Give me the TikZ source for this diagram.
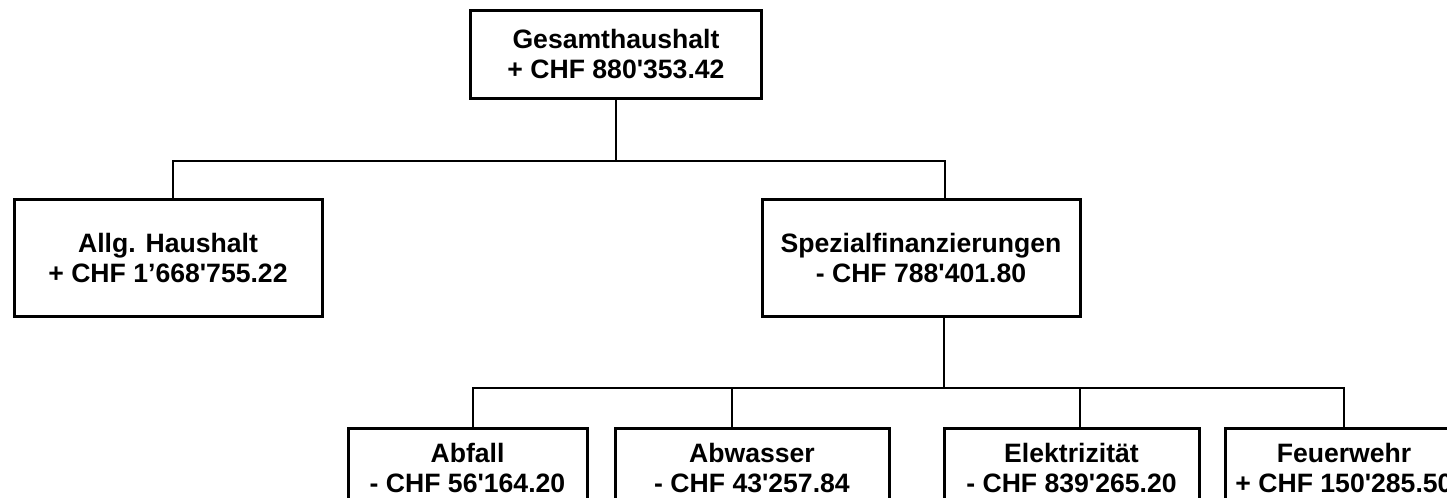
\documentclass[tikz,border=0pt]{standalone}
\usepackage{fontspec}
\setmainfont{Liberation Sans}
\usetikzlibrary{positioning}

\begin{document}
\begin{tikzpicture}[x=0.5pt,y=-0.5pt,
    konto/.style={draw,line width=1.5pt,inner sep=0pt,align=center,
      font=\fontsize{13.3pt}{15pt}\selectfont\bfseries},
    ast/.style={line width=1pt}]
  \useasboundingbox (0,0) rectangle (1447,498);
  \clip (0,0) rectangle (1447,498);

  \node[konto,minimum width=145.5pt,minimum height=44pt] (g) at (616,54)
       {Gesamthaushalt\\+ CHF 880\textquotesingle353.42};
  \node[konto,minimum width=154pt,minimum height=58.5pt] (a) at (168,257.5)
       {Allg. Haushalt\\+ CHF 1’668\textquotesingle755.22};
  \node[konto,minimum width=159pt,minimum height=58.5pt] (s) at (921,257.5)
       {Spezialfinanzierungen\\- CHF 788\textquotesingle401.80};

  \node[konto,minimum width=119.5pt,minimum height=40pt] (f1) at (467.5,468)
       {Abfall\\- CHF 56\textquotesingle164.20};
  \node[konto,minimum width=137pt,minimum height=40pt] (f2) at (752,468)
       {Abwasser\\- CHF 43\textquotesingle257.84};
  \node[konto,minimum width=127.5pt,minimum height=40pt] (f3) at (1071.5,468)
       {Elektrizität\\- CHF 839\textquotesingle265.20};
  \node[konto,minimum width=119pt,minimum height=40pt] (f4) at (1344,468)
       {Feuerwehr\\+ CHF 150\textquotesingle285.50};

  \coordinate (j1) at (616,161);
  \coordinate (j2) at (944,388);

  \draw[ast] (g.south) -- (j1);
  \draw[ast] ([xshift=2.5pt]a.north) |- (j1) -| ([xshift=12pt]s.north);
  \draw[ast] ([xshift=11.5pt]s.south) -- (j2);
  \draw[ast] ([xshift=2.75pt]f1.north) |- (j2) -| (f4.north);
  \draw[ast] ([xshift=-10pt]f2.north) |- (j2);
  \draw[ast] ([xshift=4.25pt]f3.north) |- (j2);
\end{tikzpicture}
\end{document}
